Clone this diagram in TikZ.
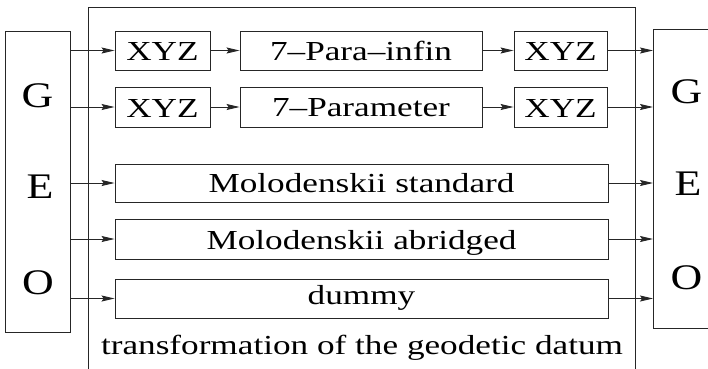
\documentclass[tikz,border=0pt]{standalone}
\usepackage{fontspec}
\usepackage{graphicx}
\setmainfont{Liberation Serif}
\newcommand{\widetxt}[1]{\scalebox{1.28}[1]{#1}}
\newcommand{\geotxt}[1]{\scalebox{1.22}[1]{#1}}
\usetikzlibrary{arrows.meta}
\begin{document}
\begin{tikzpicture}[x=1pt,y=-1pt,
  frame/.style={draw=black!85,line width=0.9pt,inner sep=0pt},
  box/.style={frame,font=\fontsize{27.5}{32}\selectfont,text height=18.5pt,text depth=0pt},
  geo/.style={font=\fontsize{36}{40}\selectfont,inner sep=0pt,anchor=base},
  arr/.style={-{Stealth[length=13pt,width=6pt,inset=2pt]},line width=0.9pt,draw=black!85}]
\useasboundingbox (0,0) rectangle (708,368);
\clip (0,0) rectangle (708,368);
% outer frame
\node[frame,anchor=north west,minimum width=547pt,minimum height=380pt] (outer) at (88,6.7) {};
\node[font=\fontsize{27.5}{32}\selectfont,anchor=base,inner sep=0pt] (caption) at (362,354) {\widetxt{transformation of the geodetic datum}};
% GEO boxes
\node[frame,anchor=north west,minimum width=65pt,minimum height=301pt] (geoL) at (5,31) {};
\node[frame,anchor=north west,minimum width=80pt,minimum height=299pt] (geoR) at (653,29) {};
\node[geo] (gL) at (37.5,107) {\geotxt{G}};
\node[geo] (eL) at (40,198) {\geotxt{E}};
\node[geo] (oL) at (38,294) {\geotxt{O}};
\node[geo] (gR) at (686.5,103) {\geotxt{G}};
\node[geo] (eR) at (688,195) {\geotxt{E}};
\node[geo] (oR) at (686.5,289) {\geotxt{O}};
% row 1
\node[box,minimum width=95pt,minimum height=39pt,text height=20pt] (x1a) at (162.5,50.5) {\widetxt{XYZ}};
\node[box,minimum width=242pt,minimum height=39pt,text height=19pt] (p1) at (361,50.5) {\widetxt{7–Para–infin}};
\node[box,minimum width=93pt,minimum height=39pt,text height=20pt] (x1b) at (560.5,50.5) {\widetxt{XYZ}};
% row 2
\node[box,minimum width=95pt,minimum height=40pt,text height=20pt] (x2a) at (162.5,107) {\widetxt{XYZ}};
\node[box,minimum width=242pt,minimum height=40pt,text height=19pt] (p2) at (361,107) {\widetxt{7–Parameter}};
\node[box,minimum width=93pt,minimum height=40pt,text height=20pt] (x2b) at (560.5,107) {\widetxt{XYZ}};
% rows 3-5
\node[box,minimum width=493pt,minimum height=38pt] (m1) at (361.5,183) {\widetxt{Molodenskii standard}};
\node[box,minimum width=493pt,minimum height=40pt,text height=21.6pt] (m2) at (361.5,239) {\widetxt{Molodenskii abridged}};
\node[box,minimum width=493pt,minimum height=39pt,text height=18pt,text depth=7pt] (dm) at (361.5,298.5) {\widetxt{dummy}};
% arrows in
\foreach \t in {x1a,x2a,m1,m2,dm}
  \draw[arr] (geoL.east |- \t.west) -- (\t.west);
% arrows between
\draw[arr] (x1a) -- (p1);
\draw[arr] (p1) -- (x1b);
\draw[arr] (x2a) -- (p2);
\draw[arr] (p2) -- (x2b);
% arrows out
\foreach \s in {x1b,x2b,m1,m2,dm}
  \draw[arr] (\s.east) -- (geoR.west |- \s.east);
\end{tikzpicture}
\end{document}
